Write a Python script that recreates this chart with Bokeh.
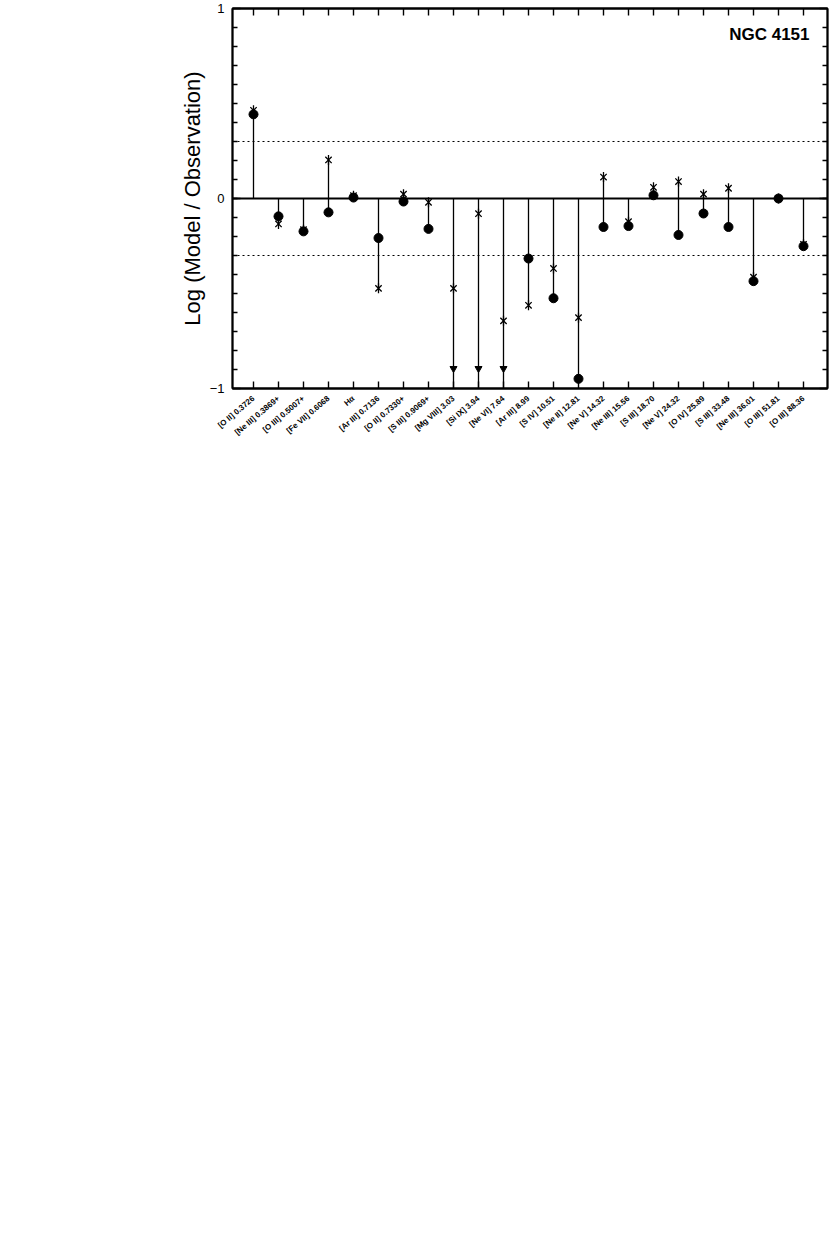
import math
from bokeh.plotting import figure
from bokeh.models import LinearAxis, FixedTicker, Span, Label, Range1d, ColumnDataSource
from bokeh.embed import file_html
from bokeh.resources import INLINE

# ---- data ----
labels = ["[O II] 0.3726", "[Ne III] 0.3869+", "[O III] 0.5007+", "[Fe VII] 0.6068", "Hα",
          "[Ar III] 0.7136", "[O II] 0.7330+", "[S III] 0.9069+", "[Mg VIII] 3.03", "[Si IX] 3.94",
          "[Ne VI] 7.64", "[Ar III] 8.99", "[S IV] 10.51", "[Ne II] 12.81", "[Ne V] 14.32",
          "[Ne III] 15.56", "[S III] 18.70", "[Ne V] 24.32", "[O IV] 25.89", "[S III] 33.48",
          "[Ne III] 36.01", "[O III] 51.81", "[O III] 88.36"]
# filled circles (NaN = below the plotted range, shown as an arrow)
model_circle = [0.443, -0.094, -0.173, -0.073, 0.005, -0.208, -0.016, -0.160,
                float("nan"), float("nan"), float("nan"),
                -0.316, -0.525, -0.949, -0.150, -0.145, 0.017, -0.192, -0.079,
                -0.150, -0.435, 0.000, -0.251]
# asterisks
model_star = [0.464, -0.134, -0.164, 0.203, 0.015, -0.473, 0.023, -0.020,
              -0.473, -0.080, -0.644, -0.562, -0.368, -0.627, 0.113, -0.122,
              0.059, 0.089, 0.023, 0.054, -0.414, 0.000, -0.241]
title_text = "NGC 4151"
y_label = "Log (Model / Observation)"

FONT = "Liberation Sans"
x = list(range(len(labels)))
is_limit = [math.isnan(c) for c in model_circle]

lo, hi = [], []
for c, s, lim in zip(model_circle, model_star, is_limit):
    vals = [0.0, s] + ([] if lim else [c])
    lo.append(-1.0 if lim else min(vals))
    hi.append(max(vals))

stems = ColumnDataSource(dict(x=x, lo=lo, hi=hi))
circ = ColumnDataSource(dict(x=[xi for xi, l in zip(x, is_limit) if not l],
                             y=[c for c, l in zip(model_circle, is_limit) if not l]))
star = ColumnDataSource(dict(x=x, y=model_star))
arrows = ColumnDataSource(dict(x=[xi for xi, l in zip(x, is_limit) if l],
                               y=[-0.895 for l in is_limit if l]))

p = figure(width=829, height=480, output_backend="svg", toolbar_location=None,
           x_range=Range1d(-0.84, 22.96), y_range=Range1d(-1, 1),
           min_border_left=232, min_border_right=2, min_border_top=8, min_border_bottom=92,
           x_axis_location=None, y_axis_location=None)
p.xgrid.grid_line_color = None
p.ygrid.grid_line_color = None
p.outline_line_color = "black"
p.outline_line_width = 1.8
p.background_fill_color = "white"
p.border_fill_color = "white"

# x axes
xt = FixedTicker(ticks=x, minor_ticks=[])
for loc in ("below", "above"):
    ax = LinearAxis(ticker=xt)
    ax.major_tick_in = 7
    ax.major_tick_out = 0
    ax.minor_tick_in = 0
    ax.minor_tick_out = 0
    ax.axis_line_width = 1.8
    ax.major_tick_line_width = 1.4
    if loc == "below":
        ax.major_label_overrides = {i: lab for i, lab in enumerate(labels)}
        ax.major_label_orientation = 0.7
        ax.major_label_text_font = FONT
        ax.major_label_text_font_size = "8px"
        ax.major_label_text_font_style = "bold"
        ax.major_label_text_color = "black"
        ax.major_label_standoff = 9
    else:
        ax.major_label_overrides = {i: "" for i in x}
        ax.major_label_standoff = 0
    p.add_layout(ax, loc)

# y axes
yt = FixedTicker(ticks=[-1, 0, 1], minor_ticks=[round(-0.9 + 0.1 * i, 1) for i in range(19)])
for loc in ("left", "right"):
    ay = LinearAxis(ticker=yt)
    ay.major_tick_in = 8
    ay.major_tick_out = 0
    ay.minor_tick_in = 5
    ay.minor_tick_out = 0
    ay.axis_line_width = 1.8
    ay.major_tick_line_width = 1.4
    ay.minor_tick_line_width = 1.4
    if loc == "left":
        ay.major_label_text_font = FONT
        ay.major_label_text_font_size = "13px"
        ay.major_label_text_color = "black"
        ay.major_label_standoff = 8
        ay.axis_label = y_label
        ay.axis_label_text_font = FONT
        ay.axis_label_text_font_size = "22px"
        ay.axis_label_text_font_style = "normal"
        ay.axis_label_text_color = "black"
        ay.axis_label_standoff = 2
    else:
        ay.major_label_overrides = {-1: "", 0: "", 1: ""}
        ay.major_label_standoff = 0
    p.add_layout(ay, loc)

# reference lines
p.add_layout(Span(location=0, dimension="width", line_color="black", line_width=1.8))
for v in (0.3, -0.3):
    p.add_layout(Span(location=v, dimension="width", line_color="black",
                      line_width=1, line_dash="2 3"))

# stems
p.segment(x0="x", y0="lo", x1="x", y1="hi", source=stems, line_color="black", line_width=1.3)
# arrow heads
p.scatter(x="x", y="y", source=arrows, marker="inverted_triangle", size=7,
          fill_color="black", line_color="black")
# asterisks
p.scatter(x="x", y="y", source=star, marker="x", size=9, line_color="black", line_width=1.3)
p.scatter(x="x", y="y", source=star, marker="dash", angle=math.pi / 2, size=10,
          line_color="black", line_width=1.3)
# circles
p.scatter(x="x", y="y", source=circ, marker="circle", size=9,
          fill_color="black", line_color="black")

p.add_layout(Label(x=22.24, y=0.864, text=title_text, text_align="right",
                   text_baseline="middle", text_font=FONT, text_font_size="17px",
                   text_font_style="bold", text_color="black"))

open("out.html", "w").write(file_html(p, INLINE))
